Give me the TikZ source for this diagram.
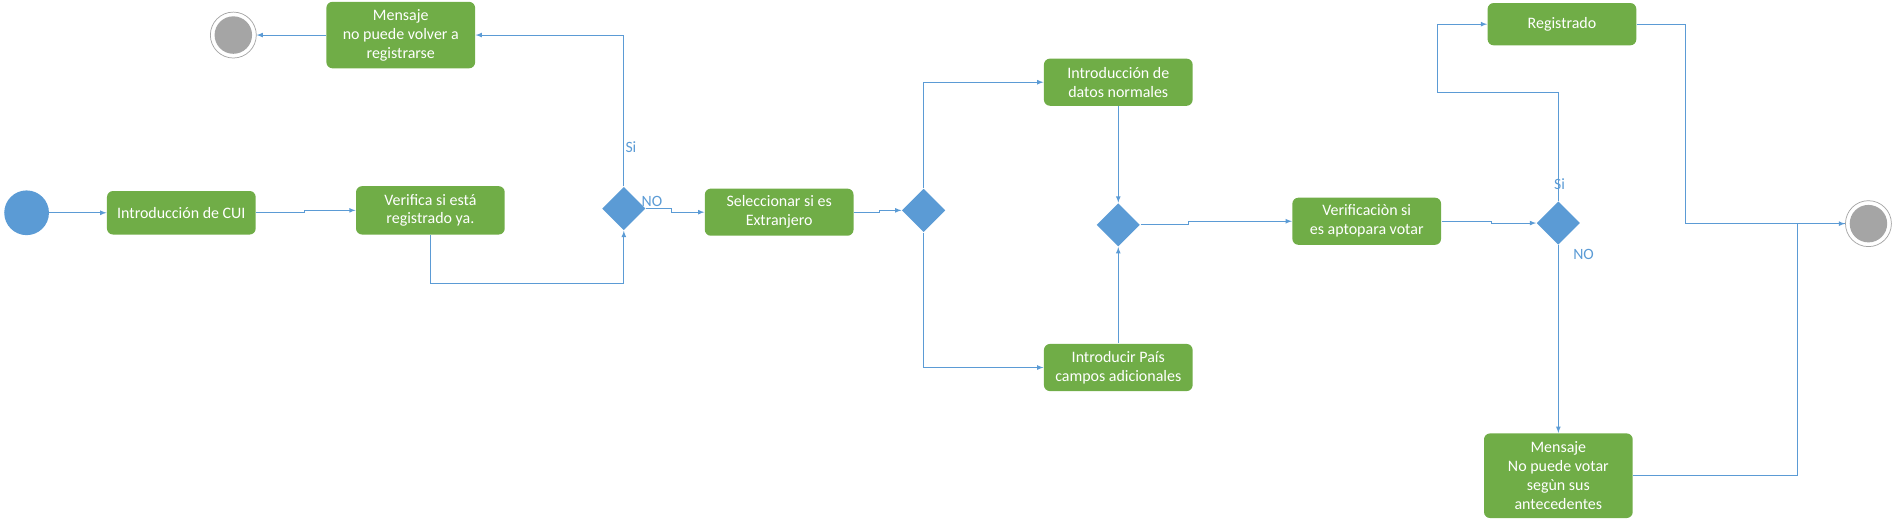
\documentclass[tikz,border=0pt]{standalone}
\usepackage{fontspec}
\setmainfont{Carlito}
\usetikzlibrary{shapes.geometric}
\definecolor{verde}{HTML}{70AD47}
\definecolor{azul}{HTML}{5B9BD5}
\definecolor{gris}{HTML}{A5A5A5}

\begin{document}
\begin{tikzpicture}[->, >=latex, x=1pt, y=-1pt, azul, line width=0.8pt,
  actividad/.style={rectangle, rounded corners=5pt, fill=verde, text=white, align=center,
    minimum width=123pt, inner sep=3pt, font=\fontsize{13.2}{15.7}\selectfont},
  decision/.style={diamond, fill=azul, minimum width=36pt, minimum height=36pt, inner sep=0pt},
  inicio/.style={circle, fill=azul, minimum size=37pt, inner sep=0pt},
  final/.style={circle, draw=gris, line width=0.6pt, fill=white, minimum size=38pt, inner sep=0pt,
    path picture={\fill[gris, -] (path picture bounding box.center) circle (15.5pt);}},
  etiqueta/.style={text=azul, font=\fontsize{13}{15}\selectfont, inner sep=1pt}]

      \useasboundingbox (0,0) rectangle (1565,436);

      \node[inicio] (inicio) at (22,176) {};
      \node[actividad, minimum height=36pt] (cui) at (150,176) {Introducción de CUI};
      \node[actividad, minimum height=40pt] (verifica) at (356,174) {Verifica si está\\registrado ya.};
      \node[decision] (d1) at (516,172.5) {};
      \node[actividad, minimum height=55pt] (msj1) at (331.5,29) {Mensaje\\no puede volver a\\registrarse};
      \node[final] (fin1) at (193,29) {};
      \node[actividad, minimum height=39pt] (selec) at (644.5,175.5) {Seleccionar si es\\Extranjero};
      \node[decision] (d2) at (764,174) {};
      \node[actividad, minimum height=39pt] (datos) at (925,68) {Introducción de\\datos normales};
      \node[actividad, minimum height=39pt] (pais) at (925,304) {Introducir País\\campos adicionales};
      \node[decision] (d3) at (925,186) {};
      \node[actividad, minimum height=39pt] (apto) at (1130.5,183) {Verificaciòn si\\es aptopara votar};
      \node[decision] (d4) at (1289,184.5) {};
      \node[actividad, minimum height=35pt] (regis) at (1292,20) {Registrado};
      \node[actividad, minimum height=70pt] (msj2) at (1289,393.5) {Mensaje\\No puede votar\\segùn sus\\antecedentes};
      \node[final] (fin2) at (1545.5,185) {};

      \path
      (inicio) edge (cui)
      (msj1)   edge (fin1)
      (datos)  edge (d3)
      (pais)   edge (d3);

      \draw (cui.east) -- ++(40,0) |- (verifica.west);
      \draw (verifica.south) -- ++(0,40) -| (d1.south);
      \draw (d1.north) |- node[pos=0.13, right, etiqueta] {Si} (msj1.east);
      \draw (d1.east) node[etiqueta, anchor=south west, xshift=-5pt] {NO} -- ++(21,0) |- (selec.west);
      \draw (selec.east) -- ++(21,0) |- (d2.west);
      \draw (d2.north) |- (datos.west);
      \draw (d2.south) |- (pais.west);
      \draw (d3.east) -- ++(40,0) |- (apto.west);
      \draw (apto.east) -- ++(41,0) |- (d4.west);
      \draw (d4.north) node[etiqueta, anchor=south, xshift=1pt, yshift=8pt] {Si} |- ++(-100,-90) |- (regis.west);
      \draw (d4.south) node[etiqueta, anchor=north west, xshift=11pt, yshift=-2pt] {NO} -- (msj2.north);
      \draw (regis.east) -- ++(40,0) |- (fin2.west);
      \draw[-] (msj2.east) -- ++(136,0) |- (fin2.west);
    \end{tikzpicture}
\end{document}
